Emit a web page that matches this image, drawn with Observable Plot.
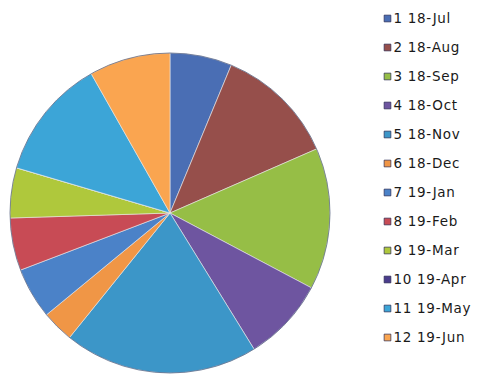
<!DOCTYPE html>
<html><head><meta charset="utf-8">
<script src="https://cdn.jsdelivr.net/npm/d3@7"></script>
<script src="https://cdn.jsdelivr.net/npm/@observablehq/plot@0.6"></script>
<style>body{margin:0;background:#fff}</style>
</head><body><div id="chart"></div>
<script>
const labels = ["1 18-Jul","2 18-Aug","3 18-Sep","4 18-Oct","5 18-Nov","6 18-Dec","7 19-Jan","8 19-Feb","9 19-Mar","10 19-Apr","11 19-May","12 19-Jun"];
const values = [22.5, 43.9, 51.5, 30.4, 70.6, 11.6, 18.6, 19.1, 18.2, 0, 44.1, 29.5];
const colors = ["#4A6EB4","#964F4B","#96BE46","#6E55A0","#3C96C8","#F09646","#4B82C8","#C84B55","#AFC83C","#4A3C8C","#3CA5D7","#FAA550"];

const data = labels.map((l, i) => ({label: l, value: values[i]}));
const cx = 170, cy = 213, R = 160;

function pieMark(index, scales, vals, dims, ctx) {
  const color = scales.color || d3.scaleOrdinal(labels, colors);
  const arcs = d3.pie().sort(null).value(d => d.value)(data);
  const arc = d3.arc().innerRadius(0).outerRadius(R);
  const g = d3.create("svg:g").attr("transform", `translate(${cx},${cy})`);
  arcs.forEach(a => {
    g.append("path").attr("d", arc(a)).attr("fill", color(a.data.label))
      .attr("stroke", "#e8e8e8").attr("stroke-width", 0.6);
  });
  g.append("circle").attr("r", R).attr("fill", "none").attr("stroke", "#3a4a70").attr("stroke-width", 1).attr("stroke-opacity", 0.6);
  return g.node();
}

const chart = Plot.plot({
  width: 479, height: 377,
  margin: 0,
  style: {letterSpacing: "0.7px"},
  x: {axis: null, domain: [0, 1]},
  y: {type: "point", domain: labels, range: [18, 337], padding: 0, axis: null},
  color: {type: "ordinal", domain: labels, range: colors},
  marks: [
    pieMark,
    Plot.dot(labels, {y: d => d, fill: d => d, symbol: "square", r: 3.8, frameAnchor: "left", dx: 387, stroke: "#2a2a50", strokeWidth: 0.7}),
    Plot.text(labels, {y: d => d, text: d => d, frameAnchor: "left", dx: 393, textAnchor: "start", fontSize: 13.5, fontWeight: "normal", fill: "#1a1a1a", fontFamily: "DejaVu Sans"})
  ]
});
document.getElementById("chart").appendChild(chart);
</script>
</body></html>
